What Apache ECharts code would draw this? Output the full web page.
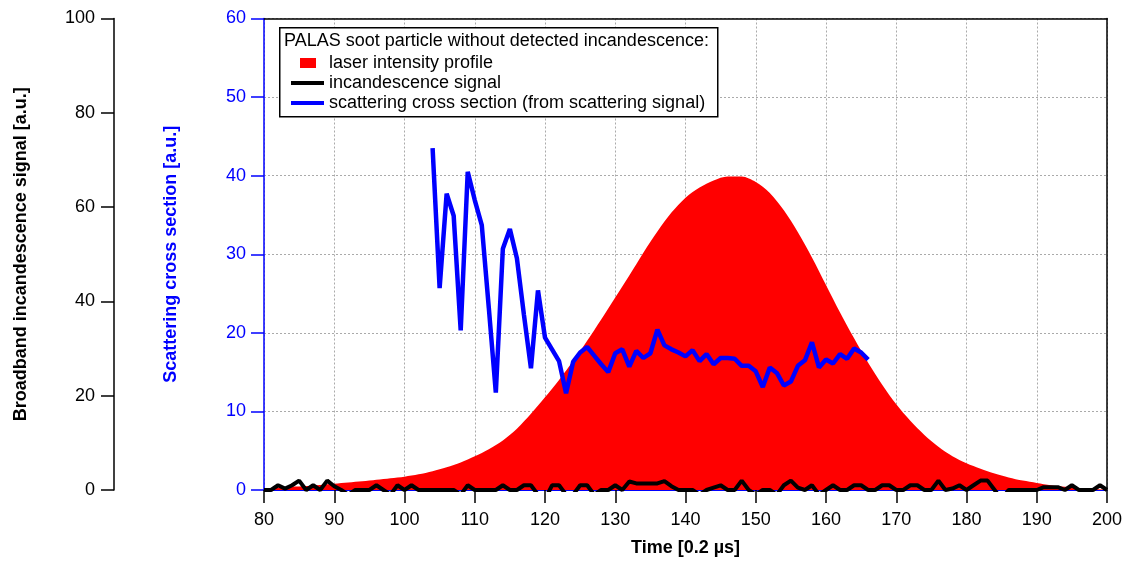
<!DOCTYPE html>
<html>
<head>
<meta charset="utf-8">
<script src="https://cdn.jsdelivr.net/npm/echarts@6/dist/echarts.min.js"></script>
<style>
html,body{margin:0;padding:0;background:#fff;}
#chart{width:1128px;height:562px;}
</style>
</head>
<body>
<div id="chart"></div>
<script>
// ---- data ----
const xTicks = [80, 90, 100, 110, 120, 130, 140, 150, 160, 170, 180, 190, 200];
const legendTitle = 'PALAS soot particle without detected incandescence:';
const seriesNames = ['laser intensity profile', 'incandescence signal', 'scattering cross section (from scattering signal)'];

// laser intensity profile, sampled every 2 time units starting at 80
const laserStart = 80, laserStep = 2;
const laserValues = [0.2, 0.3, 0.4, 0.5, 0.65, 0.8, 0.95, 1.1, 1.3, 1.5,
  1.7, 2.0, 2.4, 2.9, 3.5, 4.3, 5.2, 6.3, 7.8, 9.7,
  11.8, 14.0, 16.4, 19.0, 21.7, 24.5, 27.3, 30.2, 32.9, 35.3,
  37.2, 38.5, 39.4, 39.9, 39.9, 39.2, 37.8, 35.6, 32.8, 29.6,
  26.1, 22.6, 19.3, 16.2, 13.4, 10.9, 8.8, 7.0, 5.5, 4.3,
  3.4, 2.7, 2.1, 1.6, 1.2, 0.9, 0.6, 0.4, 0.25, 0.15, 0.1];

// incandescence signal (left axis), one sample per time unit starting at 80
const incStart = 80;
const incValues = [0, 0, 1, 0.3, 1, 2, 0, 1, 0, 2,
  0.8, 0, -1, 0, 0, 0, 1, 0, -1, 1,
  0, 1, 0, 0, 0, 0, 0, 0, -1, 1,
  0, 0, 0, 0, 1, 0, 0, 1, 1, -1,
  -2, 1, 1, -1, -1, 1, 1, -1, 0, 0,
  1, 0, 1.8, 1.4, 1.4, 1.4, 1.4, 1.9, 0.8, 0,
  0, 0, -1, 0, 0.5, 1, 0, 0, 2, 0,
  -1, 0, 0, -1, 1, 2, 0.5, 0, 1, -1,
  0, 1, 0, 0, 1, 1, 0, 0, 1, 1,
  0, 0, 1, 1, 0, 0, 2, 0, 0.3, 1,
  0, 1, 2, 2, 0, -2, 0, 0, 0, 0,
  0, 0.6, 0.6, 0.6, 0, 1, 0, 0, 0, 1, 0];

// scattering cross section, one sample per time unit starting at 104
const scatStart = 104;
const scatValues = [43.5, 25.7, 37.7, 34.9, 20.3, 40.5, 36.9, 33.7, 23.2, 12.4,
  30.7, 33.2, 29.5, 22.3, 15.5, 25.4, 19.4, 17.9, 16.4, 12.3,
  16.3, 17.5, 18.2, 17.1, 16.0, 15.0, 17.4, 17.9, 15.7, 17.7,
  16.8, 17.4, 20.4, 18.4, 17.9, 17.5, 17.0, 17.8, 16.4, 17.3,
  16.0, 16.8, 16.8, 16.7, 15.8, 15.8, 15.1, 13.1, 15.6, 14.9,
  13.3, 13.8, 15.8, 16.5, 18.8, 15.6, 16.6, 16.1, 17.3, 16.7,
  18.0, 17.5, 16.6];

const toPairs = (start, step, vals) => vals.map((v, i) => [start + i * step, v]);

const FONT = "'Liberation Sans', Arial, sans-serif";
const BLUE = '#0000ff';
const RED = '#ff0000';
const LINE_ICON = 'path://M0,0h0.05v0.05h-0.05zM0,3h33v4h-33zM32.95,9.95h0.05v0.05h-0.05z';
const RECT_ICON = 'path://M0,0h0.05v0.05h-0.05zM9,0h16v10h-16zM32.95,9.95h0.05v0.05h-0.05z';

const chart = echarts.init(document.getElementById('chart'), null, {renderer: 'canvas'});
const option = {
  animation: false,
  backgroundColor: '#ffffff',
  textStyle: {fontFamily: FONT},
  grid: {left: 264, right: 21, top: 18.5, bottom: 69, containLabel: false},
  xAxis: [{
    type: 'value', position: 'bottom', min: xTicks[0], max: xTicks[xTicks.length - 1], interval: 10,
    axisLine: {show: true, onZero: false, lineStyle: {color: BLUE, width: 1}},
    axisTick: {show: true, length: 13, inside: false, lineStyle: {color: '#000', width: 1.5}},
    axisLabel: {show: true, color: '#000', fontSize: 18, fontFamily: FONT, margin: 21},
    splitLine: {show: true, lineStyle: {color: '#aaaaaa', width: 1, type: [2, 2]}},
    name: 'Time [0.2 µs]', nameLocation: 'middle', nameGap: 49,
    nameTextStyle: {color: '#000', fontSize: 18, fontWeight: 'bold', fontFamily: FONT}
  }, {
    type: 'value', position: 'top', min: xTicks[0], max: xTicks[xTicks.length - 1],
    axisLine: {show: true, onZero: false, lineStyle: {color: '#000', width: 1.5}},
    axisTick: {show: false}, axisLabel: {show: false}, splitLine: {show: false}
  }],
  yAxis: [{
    type: 'value', position: 'left', offset: 150, min: 0, max: 100, interval: 20,
    axisLine: {show: true, onZero: false, lineStyle: {color: '#000', width: 1.5}},
    axisTick: {show: true, length: 13, inside: false, lineStyle: {color: '#000', width: 1.5}},
    axisLabel: {show: true, color: '#000', fontSize: 18, fontFamily: FONT, margin: 19},
    splitLine: {show: false},
    name: 'Broadband incandescence signal [a.u.]', nameLocation: 'middle', nameGap: 84,
    nameTextStyle: {color: '#000', fontSize: 18, fontWeight: 'bold', fontFamily: FONT}
  }, {
    type: 'value', position: 'left', offset: 0, min: 0, max: 60, interval: 10,
    axisLine: {show: true, onZero: false, lineStyle: {color: BLUE, width: 1.5}},
    axisTick: {show: true, length: 13, inside: false, lineStyle: {color: BLUE, width: 1.5}},
    axisLabel: {show: true, color: BLUE, fontSize: 18, fontFamily: FONT, margin: 18},
    splitLine: {show: true, lineStyle: {color: '#aaaaaa', width: 1, type: [2, 2]}},
    name: 'Scattering cross section [a.u.]', nameLocation: 'middle', nameGap: 84,
    nameTextStyle: {color: BLUE, fontSize: 18, fontWeight: 'bold', fontFamily: FONT}
  }, {
    type: 'value', position: 'right', min: 0, max: 60,
    axisLine: {show: true, onZero: false, lineStyle: {color: '#000', width: 1.5}},
    axisTick: {show: false}, axisLabel: {show: false}, splitLine: {show: false}
  }],
  legend: {
    show: true, orient: 'vertical', left: 286, top: 49, itemGap: 2,
    itemWidth: 33, itemHeight: 10, z: 100,
    selectedMode: false,
    textStyle: {color: '#000', fontSize: 18, fontFamily: FONT, lineHeight: 18},
    data: [
      {name: seriesNames[0], icon: RECT_ICON, itemStyle: {color: RED}},
      {name: seriesNames[1], icon: LINE_ICON, itemStyle: {color: '#000'}},
      {name: seriesNames[2], icon: LINE_ICON, itemStyle: {color: BLUE}}
    ]
  },
  graphic: [{
    type: 'rect', z: 50, left: 279, top: 27,
    shape: {x: 0, y: 0, width: 438, height: 89},
    style: {fill: '#ffffff', stroke: '#000', lineWidth: 1.5}
  }, {
    type: 'text', z: 51, left: 284, top: 32,
    style: {text: legendTitle, fill: '#000', font: "18px 'Liberation Sans', Arial, sans-serif"}
  }],
  series: [{
    name: seriesNames[0], type: 'line', xAxisIndex: 0, yAxisIndex: 1,
    data: toPairs(laserStart, laserStep, laserValues),
    smooth: 0.3, showSymbol: false, symbol: 'none',
    lineStyle: {width: 0, color: RED}, itemStyle: {color: RED},
    areaStyle: {color: RED, opacity: 1}, z: 1
  }, {
    name: seriesNames[1], type: 'line', xAxisIndex: 0, yAxisIndex: 0,
    data: toPairs(incStart, 1, incValues),
    showSymbol: false, symbol: 'none', clip: true,
    lineStyle: {width: 4, color: '#000'}, itemStyle: {color: '#000'}, z: 3
  }, {
    name: seriesNames[2], type: 'line', xAxisIndex: 0, yAxisIndex: 1,
    data: toPairs(scatStart, 1, scatValues),
    showSymbol: false, symbol: 'none', clip: true,
    lineStyle: {width: 4.5, color: BLUE}, itemStyle: {color: BLUE}, z: 4
  }]
};
chart.setOption(option);
</script>
</body>
</html>
